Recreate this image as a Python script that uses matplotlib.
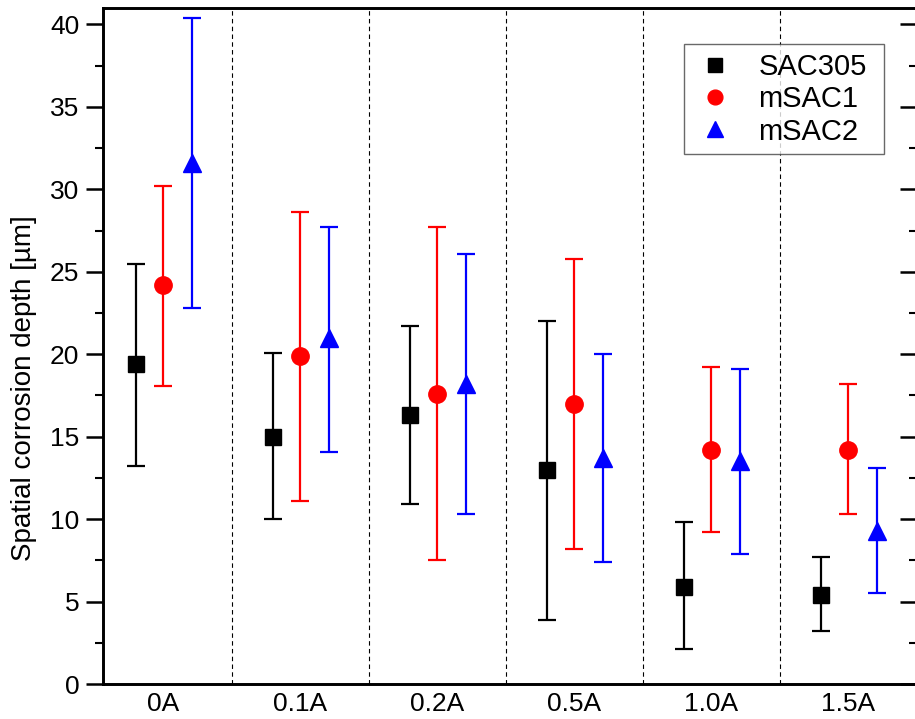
import matplotlib
matplotlib.use("Agg")
import matplotlib.pyplot as plt
import numpy as np
from matplotlib.ticker import MultipleLocator

plt.rcParams['font.family'] = ['Liberation Sans', 'DejaVu Sans']

categories = ["0A", "0.1A", "0.2A", "0.5A", "1.0A", "1.5A"]

sac305 = [19.4, 15.0, 16.3, 13.0, 5.9, 5.4]
sac305_hi = [25.5, 20.1, 21.7, 22.0, 9.8, 7.7]
sac305_lo = [13.2, 10.0, 10.9, 3.9, 2.1, 3.2]

msac1 = [24.2, 19.9, 17.6, 17.0, 14.2, 14.2]
msac1_hi = [30.2, 28.6, 27.7, 25.8, 19.2, 18.2]
msac1_lo = [18.1, 11.1, 7.5, 8.2, 9.2, 10.3]

msac2 = [31.6, 21.0, 18.2, 13.7, 13.5, 9.3]
msac2_hi = [40.4, 27.7, 26.1, 20.0, 19.1, 13.1]
msac2_lo = [22.8, 14.1, 10.3, 7.4, 7.9, 5.5]

fig = plt.figure(figsize=(9.15, 7.19), dpi=100)
ax = fig.add_axes([103/915, 35/719, (917-103)/915, (684-8)/719])

x = np.arange(len(categories))
series = [
    ("SAC305", sac305, sac305_lo, sac305_hi, "black", "s", 11.5, -0.2),
    ("mSAC1", msac1, msac1_lo, msac1_hi, "red", "o", 12.5, 0.0),
    ("mSAC2", msac2, msac2_lo, msac2_hi, "blue", "^", 13.5, 0.21),
]
for name, v, lo, hi, c, m, ms, off in series:
    v = np.array(v); lo = np.array(lo); hi = np.array(hi)
    yerr = np.vstack([v - lo, hi - v])
    ax.errorbar(x + off, v, yerr=yerr, fmt=m, color=c, ecolor=c, markersize=ms,
                elinewidth=1.6, capsize=6.5, capthick=1.6, label=name,
                markeredgecolor=c, zorder=3)

for s in np.arange(0.5, len(categories) - 0.5, 1.0):
    ax.axvline(s, color="black", lw=0.8, ls=(0, (4, 3)), zorder=1)

ax.set_xlim(-0.44, 5.5)
ax.set_ylim(0, 41)
ax.set_xticks(x)
ax.set_xticklabels(categories)
ax.yaxis.set_major_locator(MultipleLocator(5))
ax.yaxis.set_minor_locator(MultipleLocator(2.5))
ax.tick_params(axis='x', length=0, labelsize=19, pad=6)
ax.tick_params(axis='y', which='major', direction='out', length=12, width=1.8, labelsize=19, pad=5)
ax.tick_params(axis='y', which='minor', direction='out', length=6, width=1.5)
for sp in ax.spines.values():
    sp.set_linewidth(1.9)
ax.set_ylabel("Spatial corrosion depth [µm]", fontsize=20)
ax.yaxis.set_label_coords(-0.081, 0.438)

ax2 = ax.twinx()
ax2.set_ylim(ax.get_ylim())
ax2.yaxis.set_major_locator(MultipleLocator(5))
ax2.yaxis.set_minor_locator(MultipleLocator(2.5))
ax2.tick_params(axis='y', which='major', direction='in', length=12, width=1.8, labelright=False)
ax2.tick_params(axis='y', which='minor', direction='in', length=6, width=1.5)
for sp in ax2.spines.values():
    sp.set_linewidth(1.9)

handles, labels = ax.get_legend_handles_labels()
handles = [h[0] for h in handles]
leg = ax2.legend(handles, labels, loc="upper left", mode="expand",
                 bbox_to_anchor=(684/915, (719-156)/719, 200/915, 112/719),
                 bbox_transform=fig.transFigure,
                 fontsize=21, frameon=True, fancybox=False,
                 borderpad=0.3, labelspacing=0.15, handletextpad=0.75, handlelength=1.5,
                 markerscale=0.85, borderaxespad=0)
leg.get_frame().set_edgecolor("#444444")
leg.get_frame().set_linewidth(1.0)

fig.savefig("out.png", dpi=100)
